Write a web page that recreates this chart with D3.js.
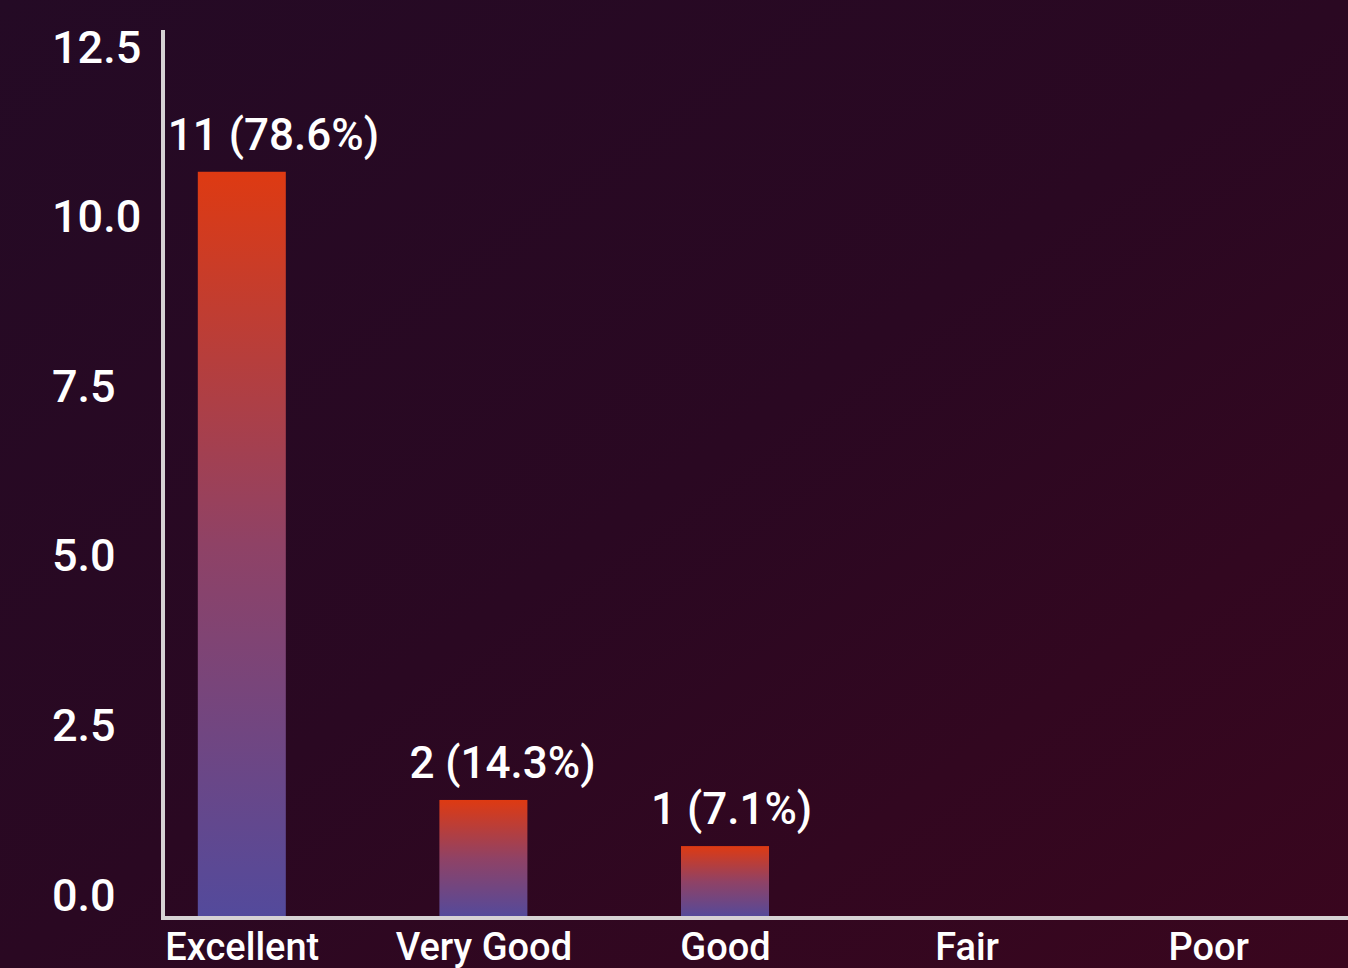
<!DOCTYPE html>
<html>
<head>
<meta charset="utf-8">
<script src="https://cdn.jsdelivr.net/npm/d3@7"></script>
<style>
  body { margin: 0; background: #26091f; }
  svg { display: block; }
  text { font-family: Roboto, "Noto Sans", sans-serif; fill: #ffffff; }
</style>
</head>
<body>
<div id="graph1"></div>
<script>
// chart data
let categories = ["Excellent", "Very Good", "Good", "Fair", "Poor"];
let counts = [11, 2, 1, 0, 0];
let percents = ["78.6", "14.3", "7.1", null, null];
let barValues = [11, 1.74, 1.06, 0, 0];
let yTicks = [0, 2.5, 5, 7.5, 10, 12.5];

let width = 1348, height = 968;

let svg = d3.select("#graph1")
    .append("svg")
    .attr("width", width)
    .attr("height", height);

let defs = svg.append("defs");

// background
let bg = defs.append("linearGradient")
    .attr("id", "bg")
    .attr("x1", "0").attr("y1", "0")
    .attr("x2", "1").attr("y2", "1");
bg.append("stop").attr("offset", "0%").attr("stop-color", "#240a25");
bg.append("stop").attr("offset", "50%").attr("stop-color", "#2a0822");
bg.append("stop").attr("offset", "100%").attr("stop-color", "#3a061e");

// bar fill, top orange to bottom purple
let barGrad = defs.append("linearGradient")
    .attr("id", "barGrad")
    .attr("x1", "0").attr("y1", "0")
    .attr("x2", "0").attr("y2", "1");
barGrad.append("stop").attr("offset", "0%").attr("stop-color", "#de3a12");
barGrad.append("stop").attr("offset", "50%").attr("stop-color", "#8f4266");
barGrad.append("stop").attr("offset", "100%").attr("stop-color", "#534a9c");

svg.append("rect")
    .attr("width", width)
    .attr("height", height)
    .attr("fill", "url(#bg)");

let axisX = 163;

let y = d3.scaleLinear()
    .domain([0, 12.5])
    .range([918, 70]);

let x = d3.scalePoint()
    .domain(categories)
    .range([121, 1329])
    .padding(0.5);

let barWidth = 88;

// bars
svg.append("g").selectAll("rect")
    .data(categories)
    .enter()
    .append("rect")
    .attr("x", function(d) { return x(d) - barWidth / 2 })
    .attr("y", function(d, i) { return y(barValues[i]) })
    .attr("width", barWidth)
    .attr("height", function(d, i) { return y(0) - y(barValues[i]) })
    .attr("fill", "url(#barGrad)");

// value labels above bars (start a little left of the bar)
svg.append("g").selectAll("text")
    .data(categories.filter(function(d, i) { return counts[i] > 0 }))
    .enter()
    .append("text")
    .attr("x", function(d) { return x(d) - barWidth / 2 - 30 })
    .attr("y", function(d) { return y(barValues[categories.indexOf(d)]) - 22 })
    .style("text-anchor", "start")
    .style("font-size", "44px")
    .style("font-weight", 500)
    .text(function(d) {
        let i = categories.indexOf(d);
        return counts[i] + " (" + percents[i] + "%)";
    });

// y axis ticks (labels only, left aligned)
let yAxis = svg.append("g")
    .attr("transform", `translate(${axisX}, 0)`)
    .call(d3.axisLeft(y).tickValues(yTicks).tickSize(0).tickFormat(d3.format(".1f")));
yAxis.select(".domain").remove();
yAxis.selectAll("text")
    .attr("x", -111)
    .attr("dy", "-8px")
    .style("text-anchor", "start")
    .style("font-family", "Roboto, sans-serif")
    .style("font-size", "45px")
    .style("font-weight", 500)
    .attr("fill", "#ffffff");

// x axis labels
let xAxis = svg.append("g")
    .attr("transform", `translate(0, ${y(0)})`)
    .call(d3.axisBottom(x).tickSize(0));
xAxis.select(".domain").remove();
xAxis.selectAll("text")
    .attr("y", 0)
    .attr("dy", "42px")
    .style("font-family", "Roboto, sans-serif")
    .style("font-size", "38px")
    .style("font-weight", 500)
    .attr("fill", "#ffffff");

// axis lines
svg.append("line")
    .attr("x1", axisX).attr("x2", axisX)
    .attr("y1", 30).attr("y2", y(0) + 2)
    .attr("stroke", "#d6d2d4")
    .attr("stroke-width", 4);
svg.append("line")
    .attr("x1", axisX - 2).attr("x2", width)
    .attr("y1", y(0)).attr("y2", y(0))
    .attr("stroke", "#d6d2d4")
    .attr("stroke-width", 4);
</script>
</body>
</html>
